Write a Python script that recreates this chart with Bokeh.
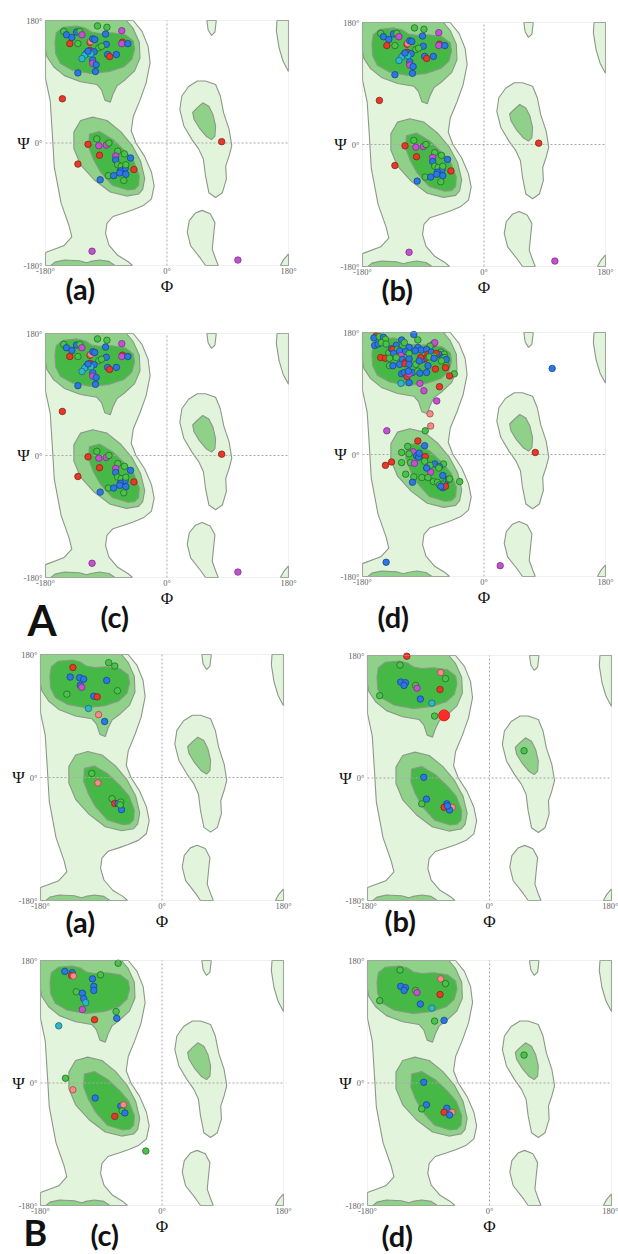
from bokeh.plotting import figure
from bokeh.layouts import column, row
from bokeh.models import FixedTicker, Label, ColumnDataSource, BoxAnnotation
from bokeh.embed import file_html
from bokeh.resources import INLINE

# ---------------- axis ticks ----------------
LIM = 180
TICKS = [-180, 0, 180]
TICK_LABELS = {-180: "-180°", 0: "0°", 180: "180°"}

# ---------------- Ramachandran region outlines (phi, psi in degrees) ----------------
allowed_main_phi = [-180, -50, -37, -28, -25, -31, -40, -50, -53, -46, -33, -23, -19, -23, -35, -50, -64, -80,
                    -89, -91, -86, -73, -58, -51, -180, -180, -153, -141, -145, -157, -167, -170, -173, -180]
allowed_main_psi = [180, 180, 164, 142, 118, 88, 63, 39, 18, 0, -20, -43, -63, -82, -92, -98, -103, -108,
                    -118, -133, -150, -165, -174, -180, -180, -161, -151, -138, -122, -88, -35, 15, 62, 95]
allowed_lh_phi = [45, 57, 72, 79, 84, 92, 96, 92, 87, 88, 82, 72, 62, 57, 54, 47, 37, 25, 19, 22, 32]
allowed_lh_psi = [91, 91, 86, 69, 44, 20, -4, -19, -34, -53, -73, -80, -73, -48, -24, -9, 5, 25, 49, 69, 83]
allowed_low_phi = [57, 50, 35, 30, 33, 42, 52, 64, 71, 69, 67, 72, 76]
allowed_low_psi = [-180, -170, -151, -131, -114, -103, -99, -104, -117, -136, -156, -170, -180]
allowed_top_phi = [59, 61, 66, 71, 73]
allowed_top_psi = [180, 166, 158, 163, 180]
allowed_edge_top_phi = [163, 162, 166, 172, 180, 180]
allowed_edge_top_psi = [180, 165, 140, 120, 105, 180]
allowed_edge_low_phi = [168, 173, 180, 180]
allowed_edge_low_psi = [-180, -171, -163, -180]

mid_beta_phi = [-180, -60, -50, -41, -40, -48, -62, -74, -80, -84, -92, -97, -104, -128, -152, -168, -178, -180]
mid_beta_psi = [180, 180, 168, 148, 125, 106, 93, 84, 72, 60, 63, 78, 86, 90, 99, 112, 127, 138]
mid_alpha_phi = [-138, -128, -110, -89, -69, -52, -39, -33, -36, -42, -60, -84, -108, -128, -138]
mid_alpha_psi = [16, 33, 38, 33, 17, -3, -27, -52, -68, -75, -78, -72, -54, -32, -8]
mid_lh_phi = [45, 53, 62, 68, 72, 71, 66, 58, 48, 40, 38]
mid_lh_psi = [52, 59, 54, 42, 25, 10, 5, 10, 22, 35, 45]
mid_low_phi = [-172, -166, -152, -130, -119, -113, -100, -86, -77]
mid_low_psi = [-180, -175, -172, -173, -176, -174, -172, -174, -180]

core_beta_phi = [-166, -164, -154, -133, -121, -112, -100, -82, -62, -50, -48, -52, -64, -85, -113, -140, -158, -165]
core_beta_psi = [148, 162, 170, 172, 169, 163, 161, 162, 159, 150, 138, 123, 112, 105, 102, 107, 117, 131]
core_alpha_phi = [-115, -100, -80, -62, -49, -41, -42, -48, -58, -81, -99, -109, -116]
core_alpha_psi = [13, 17, 5, -12, -27, -48, -62, -68, -69, -62, -42, -24, -6]

# ---------------- residues: A (a), (b), (c) ----------------
A_abc_phi = [-153, -149, -141, -134, -129, -126, -103, -89, -67, -91,
             -144, -132, -114, -113, -110, -107, -90, -66, -67, -58,
             -114, -119, -122, -126, -101, -97, -88, -85, -75, -108,
             -110, -110, -105, -132, -106, -113, -117,
             -155, 81, -111, 105,
             -117, -101, -104, -90, -86, -100, -73, -76, -63, -54,
             -132, -76, -73, -68, -62, -61, -69, -70, -49, -87,
             -79, -61, -64, -99]
A_abc_psi = [164, 159, 155, 163, 164, 159, 172, 170, 165, 160,
             146, 146, 148, 149, 153, 152, 145, 148, 146, 146,
             136, 132, 129, 124, 140, 142, 130, 127, 130, 134,
             122, 117, 115, 103, 105, 131, 135,
             65, 2, -159, -172,
             -2, -4, 6, -3, 0, -18, -12, -19, -16, -22,
             -31, -25, -32, -34, -37, -32, -41, -44, -39, -48,
             -48, -46, -55, -54]
A_abc_kind = ("gbbbgmggmb" "rgrsbbbrmb" "rbccggbrbb" "bmbbbcb"
              "rrmm"
              "rmgmgrgmgb" "rbggbgbbrg" "bbgb")

# ---------------- residues: A (d) ----------------
A_d_phi = [-160, -163, -155, -149, -146, -122, -104, -98, -162, -157,
           -152, -145, -130, -118, -111, -75, -73, -80, -98, -93,
           -85, -153, -146, -141, -137, -135, -128, -134, -125, -116,
           -111, -102, -64, -59, -67, -83, -78, -71, -74, -61,
           -140, -123, -121, -130, -116, -111, -88, -92, -94, -81,
           -74, -58, -56, -63, -140, -135, -125, -117, -111, -101,
           -96, -83, -72, -56, -57, -122, -118, -114, -106, -98,
           -95, -111, -112, -85, -44, -51, -123, -111, -95, -66,
           -89, -70, -80, -79, -87, -144, 101, -98, -113, -88,
           -122, -105, -100, -97, -87, -88, -111, -96, -146, -137,
           -122, -109, -103, -73, -80, -60, -66, -67, -116, -104,
           -92, -79, -85, -83, -106, -75, -69, -61, -56, -53,
           -62, -61, -57, -36, -51, -66, -64, 76, -145, 24]
A_d_psi = [175, 172, 174, 173, 170, 169, 177, 169, 161, 163,
           165, 163, 161, 165, 158, 163, 165, 160, 158, 154,
           155, 143, 142, 150, 156, 155, 155, 149, 153, 152,
           149, 153, 151, 148, 148, 148, 151, 149, 145, 143,
           142, 146, 140, 143, 136, 141, 141, 140, 143, 144,
           142, 143, 140, 138, 131, 131, 133, 134, 133, 133,
           138, 131, 126, 131, 128, 119, 121, 115, 121, 123,
           120, 119, 123, 121, 119, 116, 105, 106, 105, 100,
           94, 79, 60, 42, 35, 35, 127, 20, 12, 13,
           3, 4, -2, -4, -3, -10, 1, 2, -16, -11,
           -12, -12, -13, -14, -16, -14, -18, -20, -29, -33,
           -34, -26, -20, -34, -41, -40, -41, -31, -39, -37,
           -44, -49, -47, -40, -36, -45, -47, 3, -159, -164]
A_d_kind = ("rbgbgbbgbb" "ggbgbmmgbb" "brrgbrgbbb" "gbggbrbrgb" "gmbgrbrbrg"
            "bgbggbbrbg" "bbrgrbbrbg" "bmbbgrcbmr" "mmssgmbrgb" "gmbbrggbrr"
            "ggmbggbggg" "gmbgbggbgb" "gbrgggbrbm")

# ---------------- residues: B (a)-(d) ----------------
B_a_phi = [-132, -79, -70, -136, -122, -116, -82, -121, -119, -141, -101, -96, -66, -109, -94, -85,
           -104, -95, -74, -70, -65, -61, -60, -62]
B_a_psi = [161, 168, 163, 147, 146, 144, 142, 135, 132, 122, 119, 118, 127, 101, 92, 82,
           6, -8, -31, -38, -38, -36, -47, -40]
B_a_kind = "rggbbbbbmgbrgcsbgsgrbgbg"

B_b_phi = [-122, -132, -72, -65, -131, -124, -126, -109, -107, -73, -162, -102, -85, -81, -67, 51,
           -97, -93, -100, -63, -67, -55, -59, -62]
B_b_psi = [179, 166, 155, 146, 141, 140, 136, 136, 132, 130, 121, 116, 110, 91, 92, 40,
           1, -31, -38, -38, -43, -43, -47, -41]
B_b_kind = "rgsgbbbgmrgbcgRgbbgbrsbb"

B_c_phi = [-65, -144, -133, -134, -131, -91, -103, -101, -101, -127, -118, -116, -113, -118, -68, -67,
           -100, -153, -143, -132, -99, -61, -57, -59, -55, -70, -24]
B_c_psi = [176, 164, 162, 158, 157, 159, 153, 142, 136, 134, 132, 124, 118, 108, 105, 95,
           93, 84, 7, -10, -22, -34, -32, -41, -44, -49, -100]
B_c_kind = "gbbrsgbbbgbbcmgbrcgsbbsgbrg"

B_d_phi = [-132, -72, -65, -131, -124, -126, -109, -107, -73, -162, -102, -85, -81, -67, 51,
           -97, -93, -100, -63, -67, -55, -59]
B_d_psi = [166, 153, 146, 142, 140, 136, 136, 133, 130, 121, 116, 110, 91, 92, 41,
           1, -32, -38, -37, -43, -43, -47]
B_d_kind = "gsgbbbgmrgbcgbgbbgbrsb"

# ---------------- styles ----------------
FILL = {"g": "#49c449", "b": "#2a78e0", "r": "#e5392b", "m": "#c452cf",
        "c": "#2fb6c9", "s": "#f08c8c", "R": "#ff2a2a"}
EDGE = {"g": "#286b28", "b": "#1c4590", "r": "#8d2316", "m": "#7c2f86",
        "c": "#1b6c78", "s": "#a84848", "R": "#e01010"}
SIZE = {"R": 11}

C_ALLOWED = "#e3f4dd"
C_MID = "#8fd189"
C_CORE = "#46b846"
C_LINE = "#8a9888"
SERIF = "Liberation Serif"


def make_panel(phi, psi, kind, sub, W, H, L, T, BW, BH, sub_dx, sub_dy, big=None):
    """W,H: figure size; L,T: offset of the +-180 box inside it; BW,BH: box size (px)."""
    sx = BW / 360.0
    sy = BH / 360.0
    x_range = (-LIM - L / sx, -LIM + (W - L) / sx)
    y_range = (LIM - (H - T) / sy, LIM + T / sy)
    p = figure(width=W, height=H, x_range=x_range, y_range=y_range,
               output_backend="svg", toolbar_location=None,
               min_border=0, min_border_left=0, min_border_right=0,
               min_border_top=0, min_border_bottom=0)
    p.background_fill_color = "white"
    p.border_fill_color = "white"
    p.outline_line_color = None
    p.xgrid.visible = False
    p.ygrid.visible = False
    for ax in (p.xaxis[0], p.yaxis[0]):
        ax.fixed_location = -LIM
        ax.ticker = FixedTicker(ticks=TICKS)
        ax.major_label_overrides = TICK_LABELS
        ax.axis_line_color = None
        ax.major_tick_line_color = None
        ax.minor_tick_line_color = None
        ax.major_tick_in = 0
        ax.major_tick_out = 0
        ax.major_label_text_font = SERIF
        ax.major_label_text_font_size = "8.5px"
        ax.major_label_text_color = "#5f5f5f"
    p.xaxis.major_label_standoff = 0
    p.yaxis.major_label_standoff = 3

    # allowed regions
    p.patches(xs=[allowed_main_phi, allowed_lh_phi, allowed_low_phi, allowed_top_phi,
                  allowed_edge_top_phi, allowed_edge_low_phi],
              ys=[allowed_main_psi, allowed_lh_psi, allowed_low_psi, allowed_top_psi,
                  allowed_edge_top_psi, allowed_edge_low_psi],
              fill_color=C_ALLOWED, line_color=C_LINE, line_width=1.1)
    p.patches(xs=[mid_beta_phi, mid_alpha_phi, mid_lh_phi, mid_low_phi],
              ys=[mid_beta_psi, mid_alpha_psi, mid_lh_psi, mid_low_psi],
              fill_color=C_MID, line_color=C_LINE, line_width=1.1)
    p.patches(xs=[core_beta_phi, core_alpha_phi], ys=[core_beta_psi, core_alpha_psi],
              fill_color=C_CORE, line_color=C_LINE, line_width=1.1)

    # zero reference lines
    p.segment(x0=[-LIM, 0], y0=[0, -LIM], x1=[LIM, 0], y1=[0, LIM],
              line_color="#a9a9a9", line_dash="2 2", line_width=1)

    src = ColumnDataSource(dict(
        phi=phi, psi=psi,
        fill=[FILL[k] for k in kind],
        edge=[EDGE[k] for k in kind],
        size=[SIZE.get(k, 6.5) for k in kind],
    ))
    p.scatter(x="phi", y="psi", source=src, size="size", fill_color="fill",
              line_color="edge", line_width=0.8)

    # plot box outline
    p.add_layout(BoxAnnotation(left=-LIM, right=LIM, bottom=-LIM, top=LIM,
                               fill_alpha=0, line_color="#cdcdcd", line_width=1))

    # axis titles
    p.add_layout(Label(x=-LIM - 22 / sx, y=0, text="Ψ", text_font=SERIF,
                       text_font_size="17px", text_color="#111111",
                       text_align="center", text_baseline="middle"))
    p.add_layout(Label(x=0, y=-LIM - 21 / sy, text="Φ", text_font=SERIF,
                       text_font_size="17px", text_color="#111111",
                       text_align="center", text_baseline="middle"))

    p.add_layout(Label(x=-LIM + sub_dx / sx, y=-LIM - sub_dy / sy, text=sub,
                       text_font="Lato", text_font_style="bold", text_font_size="29px",
                       text_color="#111111", text_align="left", text_baseline="middle"))
    if big is not None:
        txt, bdx, bdy, fs = big
        p.add_layout(Label(x=-LIM + bdx / sx, y=-LIM - bdy / sy, text=txt,
                           text_font="Lato", text_font_style="bold", text_font_size=fs,
                           text_color="#111111", text_align="left", text_baseline="middle"))
    return p


p1 = make_panel(A_abc_phi, A_abc_psi, A_abc_kind, "(a)", 309, 318, 45, 20, 243, 245, 20, 22.5)
p2 = make_panel(A_abc_phi, A_abc_psi, A_abc_kind, "(b)", 309, 318, 53, 22, 243, 244, 19, 22.5)
p3 = make_panel(A_abc_phi, A_abc_psi, A_abc_kind, "(c)", 309, 327, 45, 15, 243, 244, 55, 39,
                big=("A", -18, 42, "42px"))
p4 = make_panel(A_d_phi, A_d_psi, A_d_kind, "(d)", 309, 327, 53, 14, 243, 244, 15, 40)
p5 = make_panel(B_a_phi, B_a_psi, B_a_kind, "(a)", 309, 300, 40, 9, 243, 246, 25, 21)
p6 = make_panel(B_b_phi, B_b_psi, B_b_kind, "(b)", 309, 300, 58, 10, 244, 245, 17, 20)
p7 = make_panel(B_c_phi, B_c_psi, B_c_kind, "(c)", 309, 309, 40, 15, 243, 245, 50, 29,
                big=("B", -17, 26, "36px"))
p8 = make_panel(B_d_phi, B_d_psi, B_d_kind, "(d)", 309, 309, 58, 15, 244, 245, 14, 30)

layout = column(row(p1, p2), row(p3, p4), row(p5, p6), row(p7, p8))
open("out.html", "w").write(file_html(layout, INLINE))
